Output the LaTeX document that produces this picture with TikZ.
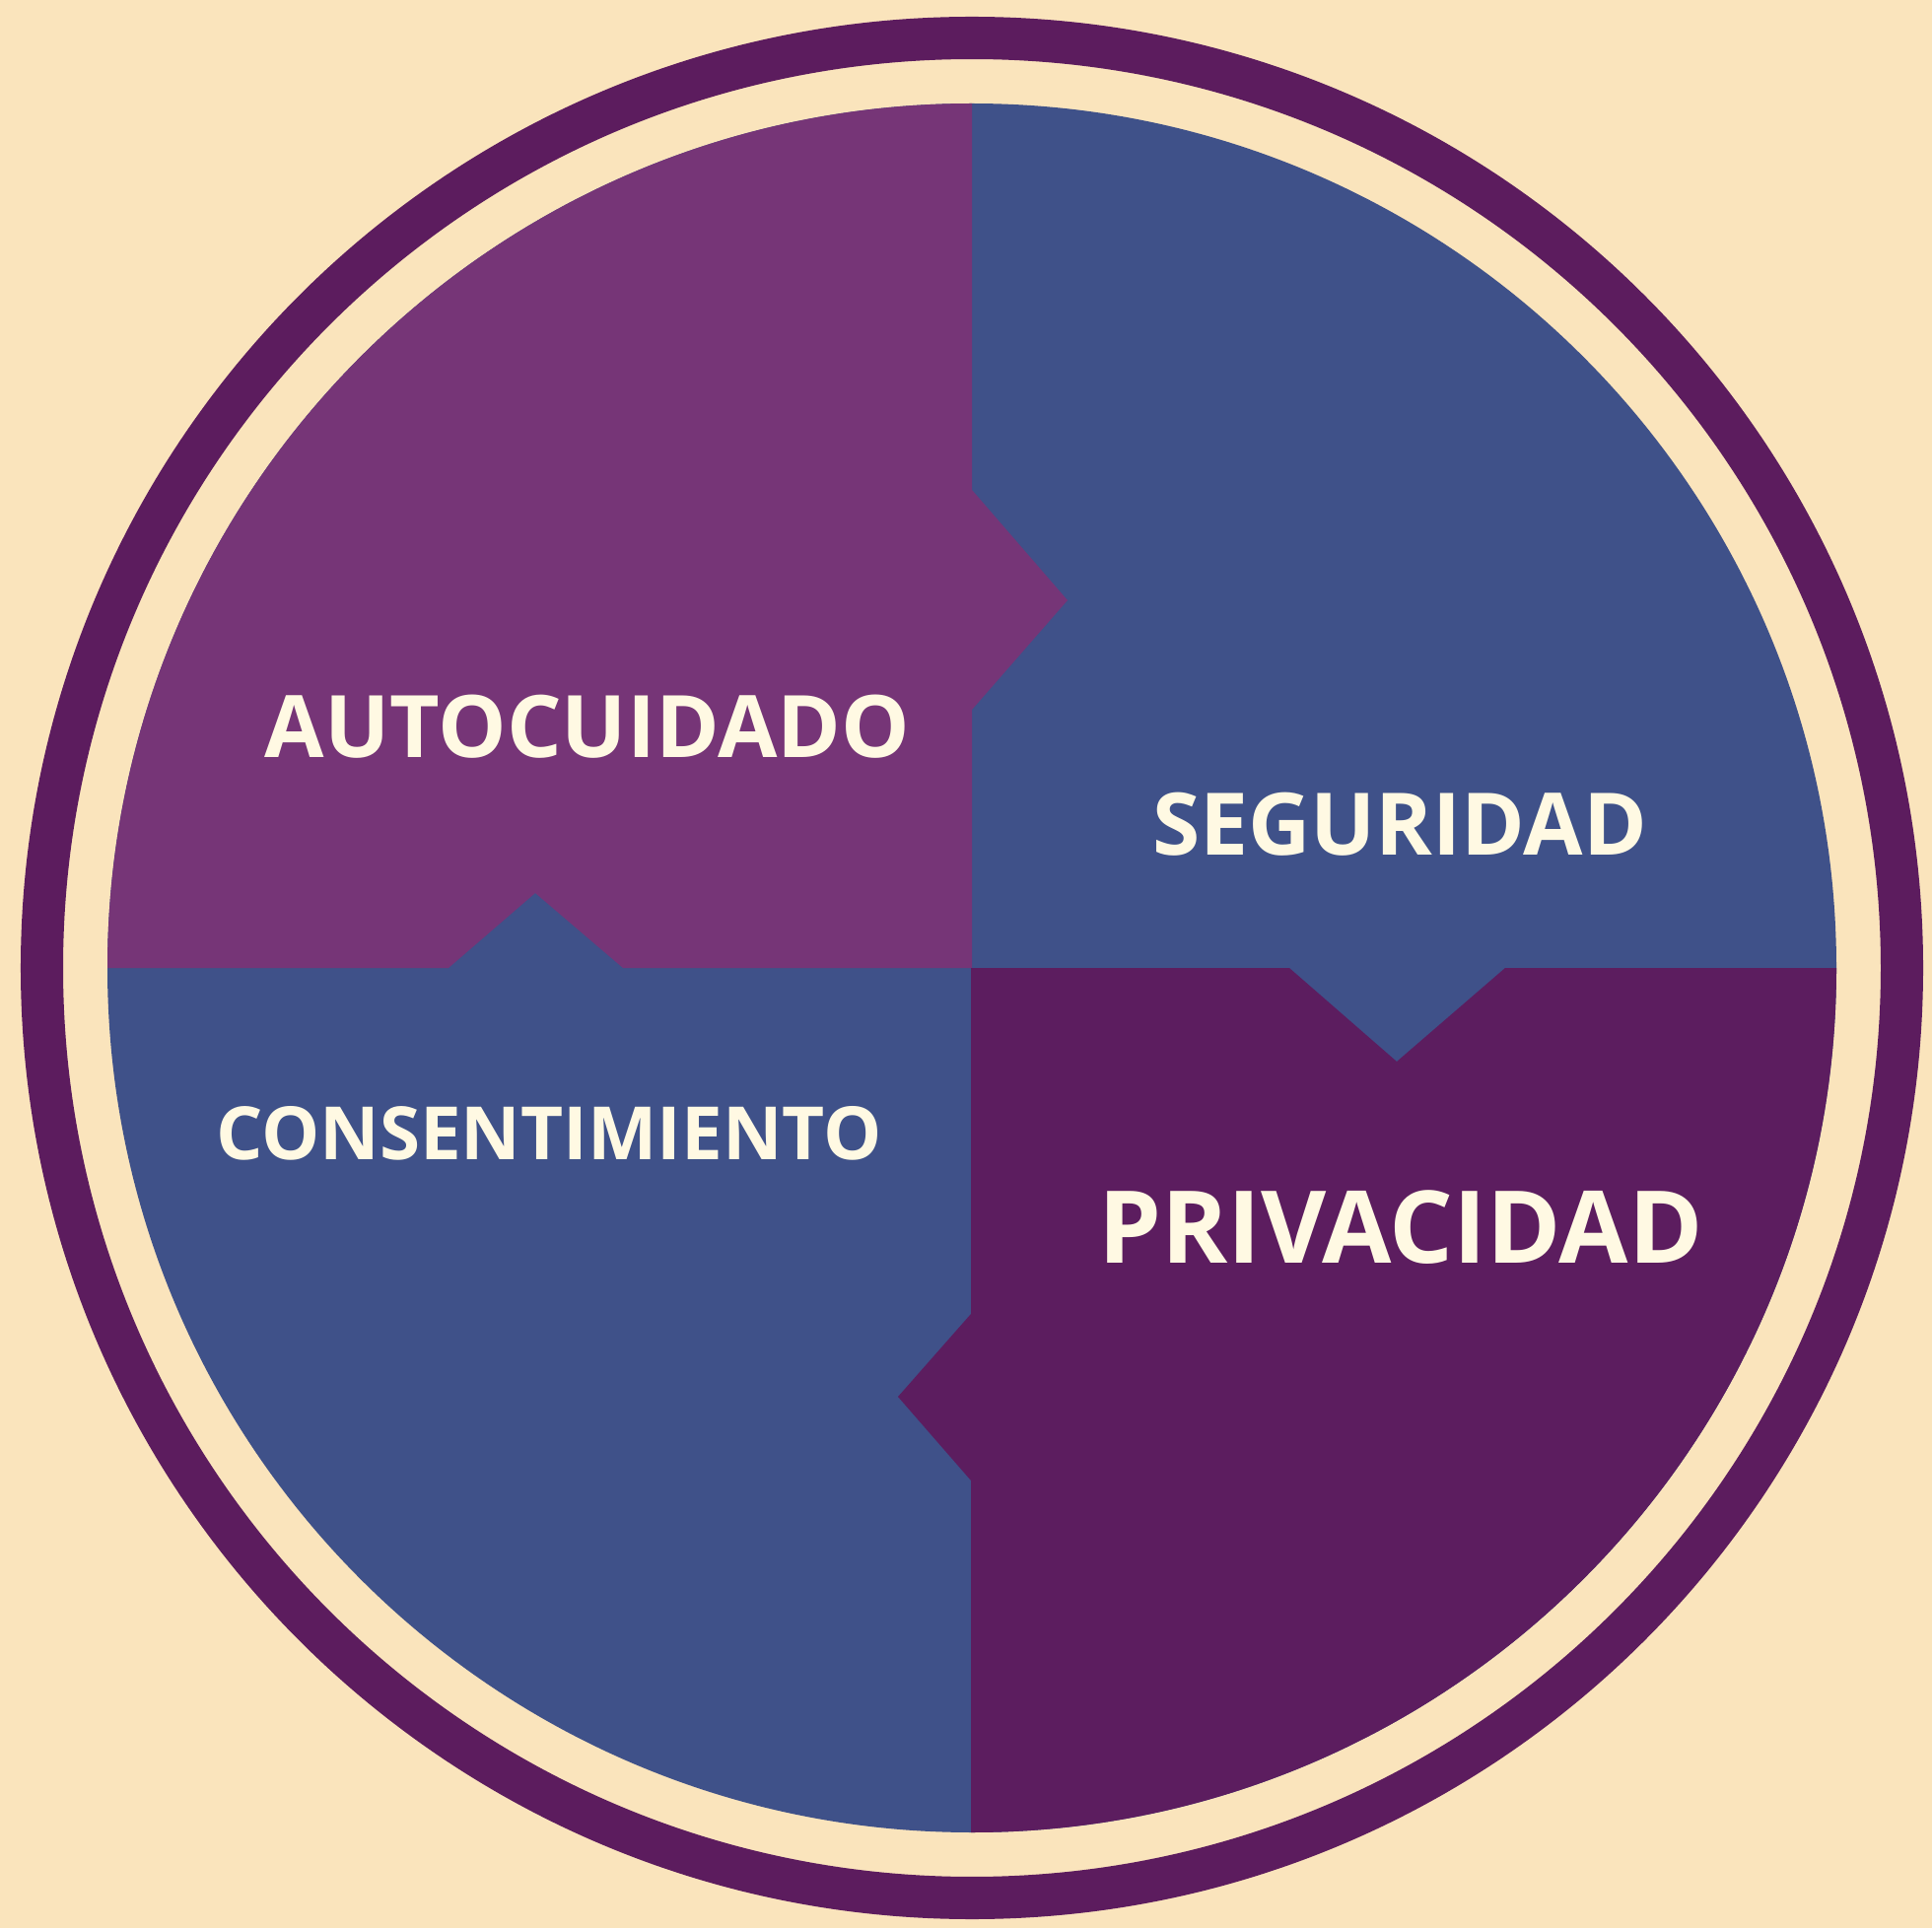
\documentclass[tikz,border=0pt]{standalone}
\usepackage{fontspec}
\setmainfont{Open Sans}
\definecolor{bgcream}{HTML}{FAE4BC}
\definecolor{ringpurple}{HTML}{5C1C5E}
\definecolor{tlpurple}{HTML}{763577}
\definecolor{qblue}{HTML}{3F5189}
\definecolor{brpurple}{HTML}{5C1D5F}
\definecolor{txtcream}{HTML}{FFF9E3}
\tikzset{
  lbl/.style={text=txtcream, font=\bfseries, inner sep=0pt, anchor=base},
}
\begin{document}
\begin{tikzpicture}[x=0.01cm,y=0.01cm]
\fill[bgcream] (0,0) rectangle (1960,1956);
\useasboundingbox (0,0) rectangle (1960,1956);
\coordinate (C) at (986,974);
% outer ring
\draw[ringpurple, line width=4.3mm] (C) circle[radius=943.5];
% base disc (blue quadrants)
\fill[qblue] (C) circle[radius=877];
% top-left quadrant
\fill[tlpurple] (986,1851) -- (986,1459) -- (1083,1347) -- (986,1236) -- (986,974)
  -- (632,974) -- (543,1050) -- (455,974) -- (109,974)
  arc[start angle=180,end angle=90,radius=877] -- cycle;
% bottom-right quadrant
\fill[brpurple] (985,974) -- (1308,974) -- (1417,879) -- (1527,974) -- (1863,974)
  arc[start angle=0,end angle=-90,radius=877] -- (985,97)
  -- (985,454) -- (911,539) -- (985,623) -- cycle;
% labels
\node[lbl, font=\bfseries\fontsize{24.9pt}{28pt}\selectfont] (auto) at (596,1187) {AUTOCUIDADO};
\node[lbl, font=\bfseries\fontsize{24.9pt}{28pt}\selectfont] (seg) at (1420,1088) {SEGURIDAD};
\node[lbl, font=\bfseries\fontsize{21.2pt}{26pt}\selectfont] (cons) at (557,780) {CONSENTIMIENTO};
\node[lbl, font=\bfseries\fontsize{29pt}{32pt}\selectfont] (priv) at (1421,675) {PRIVACIDAD};
\end{tikzpicture}
\end{document}
